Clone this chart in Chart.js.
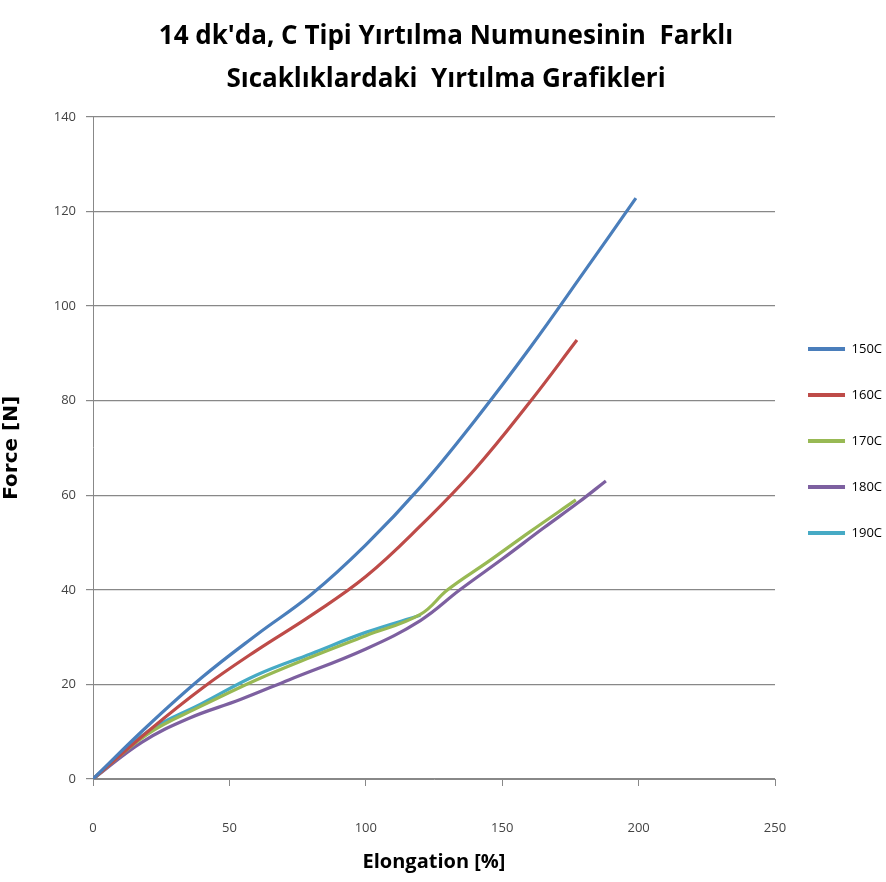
<!DOCTYPE html>
<html>
<head>
<meta charset="utf-8">
<script src="https://cdn.jsdelivr.net/npm/chart.js@4.4.1/dist/chart.umd.min.js"></script>
<style>
  html, body { margin: 0; padding: 0; background: #fff; }
  #wrap { width: 886px; height: 882px; }
</style>
</head>
<body>
<div id="wrap"><canvas id="c" width="886" height="882"></canvas></div>
<script>
const seriesNames = ['150C', '160C', '170C', '180C', '190C'];
const seriesColors = ['#4A7EBB', '#BE4B48', '#98B954', '#7D60A0', '#46AAC5'];

const x150 = [0, 20, 40, 60, 80, 100, 120, 140, 160, 180, 199];
const y150 = [0, 11.2, 21.5, 30.5, 39, 49.5, 61.7, 75.8, 91, 107.2, 122.8];

const x160 = [0, 20, 40, 60, 80, 100, 120, 140, 160, 177.4];
const y160 = [0, 10, 19.2, 27.2, 34.6, 42.8, 53.5, 65.5, 79.6, 92.8];

const x170 = [0, 20, 40, 60, 80, 100, 120, 130, 145, 160, 177];
const y170 = [0, 9.5, 15.5, 21, 25.8, 30.3, 34.8, 40, 46, 52.2, 59];

const x180 = [0, 18, 35, 54, 72, 100, 120, 134.5, 150, 165, 178, 188];
const y180 = [0, 7.8, 12.8, 16.8, 21, 27.5, 33.5, 40, 46.5, 53, 58.5, 63];

const x190 = [0, 20, 40, 60, 80, 100, 120];
const y190 = [0, 10, 16, 22, 26.5, 31, 34.6];

const xTicks = [0, 50, 100, 150, 200, 250];
const yTicks = [0, 20, 40, 60, 80, 100, 120, 140];

const titleLines = ["14 dk'da, C Tipi Yırtılma Numunesinin  Farklı", "Sıcaklıklardaki  Yırtılma Grafikleri"];
const xTitle = 'Elongation [%]';
const yTitle = 'Force [N]';

function pts(xs, ys) { return xs.map((x, i) => ({ x: x, y: ys[i] })); }
const allX = [x150, x160, x170, x180, x190];
const allY = [y150, y160, y170, y180, y190];

const datasets = seriesNames.map((n, i) => ({
  label: n,
  data: pts(allX[i], allY[i]),
  borderColor: seriesColors[i],
  backgroundColor: seriesColors[i],
  borderWidth: 3.2,
  pointRadius: 0,
  showLine: true,
  tension: 0.4,
  fill: false
}));

const sans = '"Open Sans", sans-serif';

new Chart(document.getElementById('c'), {
  type: 'scatter',
  data: { datasets: datasets },
  options: {
    responsive: false,
    animation: false,
    devicePixelRatio: 1,
    layout: { padding: { left: 0, right: -6, top: 0, bottom: 0 } },
    plugins: {
      title: {
        display: true,
        text: titleLines,
        color: '#000',
        font: { family: sans, size: 26, weight: 'bold', lineHeight: 1.65 },
        padding: { top: 15, bottom: 16 }
      },
      legend: {
        position: 'right',
        align: 'center',
        labels: {
          boxWidth: 37,
          boxHeight: 4,
          padding: 33,
          color: '#222',
          font: { family: sans, size: 13 },
          generateLabels: (chart) => chart.data.datasets.map((d, i) => ({
            text: d.label,
            fillStyle: d.borderColor,
            strokeStyle: d.borderColor,
            lineWidth: 0,
            datasetIndex: i
          }))
        }
      },
      tooltip: { enabled: false }
    },
    scales: {
      x: {
        type: 'linear',
        min: 0, max: 250,
        afterBuildTicks: (s) => { s.ticks = xTicks.map(v => ({ value: v })); },
        ticks: { color: '#444', font: { family: sans, size: 13 }, padding: 34 },
        grid: { display: true, drawOnChartArea: false, drawTicks: true, tickLength: 7, color: '#888' },
        border: { display: true, color: '#888', width: 1 },
        title: { display: true, text: xTitle, color: '#000', font: { family: sans, size: 20, weight: 'bold' }, padding: { top: 6, bottom: 8 } },
        afterFit: (s) => { s.height = 103; }
      },
      y: {
        type: 'linear',
        min: 0, max: 140,
        afterBuildTicks: (s) => { s.ticks = yTicks.map(v => ({ value: v })); },
        ticks: { color: '#444', font: { family: sans, size: 13 }, padding: 10 },
        grid: { display: true, drawOnChartArea: true, drawTicks: true, tickLength: 7, color: '#888', lineWidth: 1.2 },
        border: { display: true, color: '#888', width: 1 },
        title: { display: true, text: yTitle, color: '#000', font: { family: '"DejaVu Sans", sans-serif', size: 20, weight: 'bold' }, padding: { top: 0, bottom: 12 } },
        afterFit: (s) => { s.width = 93; }
      }
    }
  }
});
</script>
</body>
</html>
